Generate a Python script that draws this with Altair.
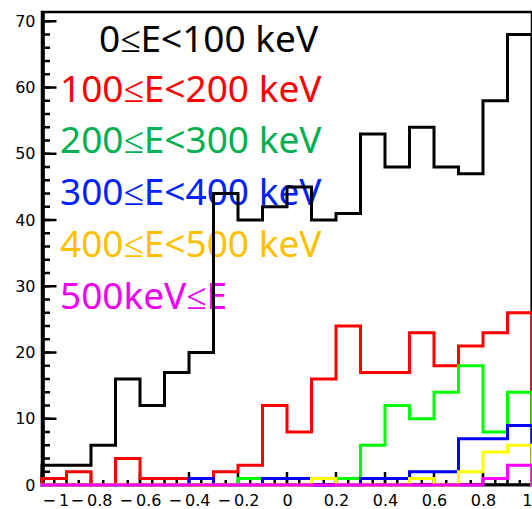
import altair as alt
import pandas as pd

# ---- data (bin lower edges, counts per energy band) ----
edges = [-1.0, -0.9, -0.8, -0.7, -0.6, -0.5, -0.4, -0.3, -0.2, -0.1,
         0.0, 0.1, 0.2, 0.3, 0.4, 0.5, 0.6, 0.7, 0.8, 0.9]
x_max = 1.0
black = [3, 3, 6, 16, 12, 17, 20, 44, 40, 42, 45, 40, 41, 53, 48, 54, 48, 47, 58, 68]
red = [1, 2, 0, 4, 1, 1, 1, 2, 3, 12, 8, 16, 24, 17, 17, 23, 18, 21, 23, 26]
green = [0, 0, 0, 0, 0, 0, 0, 0, 1, 1, 1, 1, 1, 6, 12, 10, 14, 18, 8, 14]
blue = [0, 0, 0, 0, 0, 0, 1, 0, 0, 1, 1, 0, 0, 1, 1, 2, 2, 7, 7, 9]
yellow = [0, 0, 0, 0, 0, 0, 0, 0, 0, 0, 0, 1, 0, 0, 0, 1, 0, 2, 5, 6]
magenta = [0, 0, 0, 0, 0, 0, 0, 0, 0, 0, 0, 0, 0, 0, 0, 0, 0, 0, 1, 3]

labels = ["0≤E<100 keV", "100≤E<200 keV", "200≤E<300 keV",
          "300≤E<400 keV", "400≤E<500 keV", "500keV≤E"]
x_ticks = [-1, -0.8, -0.6, -0.4, -0.2, 0, 0.2, 0.4, 0.6, 0.8, 1]
y_ticks = [0, 10, 20, 30, 40, 50, 60, 70]

series = [black, red, green, blue, yellow, magenta]
line_colors = ["#000000", "#FF0000", "#00FF00", "#0000FF", "#FFFF00", "#FF00FF"]
text_colors = ["#000000", "#FF0000", "#00B050", "#0022FF", "#FFC000", "#F000F0"]

W, H = 490, 473
xscale = alt.Scale(domain=[-1, 1], nice=False, zero=False)
yscale = alt.Scale(domain=[0, 71.4], nice=False, zero=False)

lab_font = "DejaVu Sans"
x_axis = alt.Axis(values=x_ticks, ticks=False, domain=False, grid=False,
                  labelExpr="datum.value < 0 ? '\u2212\u2009' + format(-datum.value, '~g') : format(datum.value, '~g')",
                  labelFont=lab_font, labelFontSize=16, labelColor="black",
                  labelPadding=7, labelOverlap=False, title=None)
y_axis = alt.Axis(values=y_ticks, ticks=False, domain=False, grid=False,
                  labelFont=lab_font, labelFontSize=16, labelColor="black",
                  labelPadding=7, labelOverlap=False, title=None)

layers = []

# legend texts (drawn beneath the histograms)
text_x = [57, 18, 18, 18, 18, 18]
text_y = [40, 90, 141, 193, 245, 297]
for lab, col, tx, ty in zip(labels, text_colors, text_x, text_y):
    layers.append(
        alt.Chart(pd.DataFrame({"t": [lab]})).mark_text(
            font="Noto Sans", fontSize=37, align="left", baseline="alphabetic",
            color=col
        ).encode(text="t:N", x=alt.value(tx), y=alt.value(ty))
    )

# minor / major ticks (inside)
x_minor = [round(-1 + 0.05 * i, 2) for i in range(41)]
y_minor = list(range(0, 72, 2))
layers.append(alt.Chart(pd.DataFrame({"x": x_minor})).mark_rule(color="black", strokeWidth=2.5).encode(
    x=alt.X("x:Q", scale=xscale, axis=x_axis), y=alt.value(H), y2=alt.value(H - 5)))
layers.append(alt.Chart(pd.DataFrame({"x": x_ticks})).mark_rule(color="black", strokeWidth=2.5).encode(
    x=alt.X("x:Q", scale=xscale, axis=x_axis), y=alt.value(H), y2=alt.value(H - 13)))
layers.append(alt.Chart(pd.DataFrame({"y": y_minor})).mark_rule(color="black", strokeWidth=2.5).encode(
    y=alt.Y("y:Q", scale=yscale, axis=y_axis), x=alt.value(0), x2=alt.value(8)))
layers.append(alt.Chart(pd.DataFrame({"y": y_ticks})).mark_rule(color="black", strokeWidth=2.5).encode(
    y=alt.Y("y:Q", scale=yscale, axis=y_axis), x=alt.value(0), x2=alt.value(14.5)))

# axis lines
one = pd.DataFrame({"a": [0]})
layers.append(alt.Chart(one).mark_rule(color="black", strokeWidth=3.3).encode(
    x=alt.value(1.2), y=alt.value(0), y2=alt.value(H)))
layers.append(alt.Chart(one).mark_rule(color="black", strokeWidth=3).encode(
    x=alt.value(0), x2=alt.value(W), y=alt.value(H - 0.3)))

# histograms
for vals, col in zip(series, line_colors):
    xs = [edges[0]] + edges + [x_max, x_max]
    ys = [0] + vals + [vals[-1], 0]
    df = pd.DataFrame({"x": xs, "y": ys, "i": list(range(len(xs)))})
    layers.append(
        alt.Chart(df).mark_line(interpolate="step-after", color=col, strokeWidth=3,
                                strokeJoin="miter", strokeCap="square").encode(
            x=alt.X("x:Q", scale=xscale, axis=x_axis),
            y=alt.Y("y:Q", scale=yscale, axis=y_axis),
            order="i:Q",
        )
    )

chart = alt.layer(*layers).properties(
    width=W, height=H,
    padding={"left": 42, "top": 12, "right": 0, "bottom": 24},
    autosize=alt.AutoSizeParams(type="none"),
    background="white",
).configure_view(stroke="black", strokeWidth=2.5)

chart.save("out.html", embed_options={"renderer": "svg", "actions": False})
